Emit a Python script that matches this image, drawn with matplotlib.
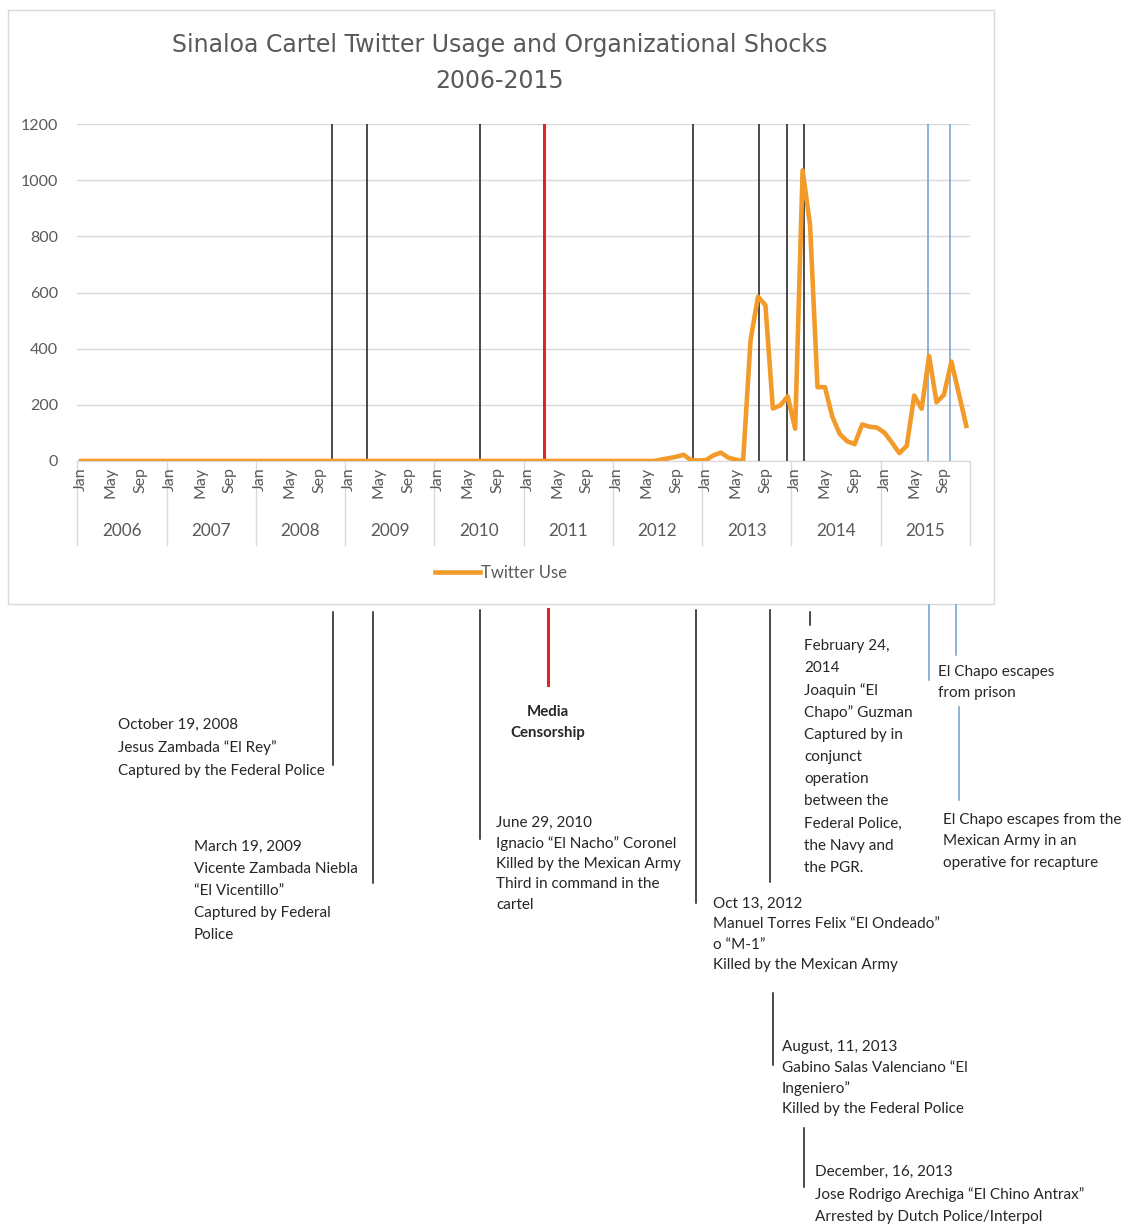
import matplotlib
matplotlib.use("Agg")
import matplotlib.pyplot as plt
from matplotlib.lines import Line2D
from matplotlib.patches import Rectangle

# monthly twitter use (Jan..Dec)
tw_2006 = [0, 0, 0, 0, 0, 0, 0, 0, 0, 0, 0, 0]
tw_2007 = [0, 0, 0, 0, 0, 0, 0, 0, 0, 0, 0, 0]
tw_2008 = [0, 0, 0, 0, 0, 0, 0, 0, 0, 0, 0, 0]
tw_2009 = [0, 0, 0, 0, 0, 0, 0, 0, 0, 0, 0, 0]
tw_2010 = [0, 0, 0, 0, 0, 0, 0, 0, 0, 0, 0, 0]
tw_2011 = [0, 0, 0, 0, 0, 0, 0, 0, 0, 0, 0, 0]
tw_2012 = [0, 0, 0, 0, 0, 0, 5, 10, 15, 22, 3, 2]
tw_2013 = [3, 20, 30, 12, 5, 0, 430, 585, 555, 187, 198, 230]
tw_2014 = [115, 1035, 840, 263, 263, 157, 96, 70, 60, 130, 122, 119]
tw_2015 = [101, 66, 28, 54, 233, 186, 374, 209, 236, 354, 240, 125]

years = [2006, 2007, 2008, 2009, 2010, 2011, 2012, 2013, 2014, 2015]
month_labels = ["Jan", "", "", "", "May", "", "", "", "Sep", "", "", ""]

# organizational shocks, as month index from Jan 2006
event_month = [33.7, 38.4, 53.6, 62.2, 82.3, 91.2, 94.9, 97.2, 113.9, 116.8]
event_color = ["#1a1a1a", "#1a1a1a", "#1a1a1a", "#e0232d", "#1a1a1a",
               "#1a1a1a", "#1a1a1a", "#1a1a1a", "#6f9fd0", "#6f9fd0"]

twitter = tw_2006 + tw_2007 + tw_2008 + tw_2009 + tw_2010 + tw_2011 + \
    tw_2012 + tw_2013 + tw_2014 + tw_2015
months = list(range(len(twitter)))

W, H = 1128, 1226
fig = plt.figure(figsize=(W / 100, H / 100), dpi=100)
FONT = ["Lato", "DejaVu Sans"]
GREY = "#595959"
TXT = "#262626"


def fx(x):
    return x / W


def fy(y):
    return 1 - y / H


# chart frame
fig.patches.append(Rectangle((fx(8), fy(604)), (994 - 8) / W, (604 - 10) / H,
                             transform=fig.transFigure, fill=False,
                             edgecolor="#d9d9d9", lw=1))

ax = fig.add_axes([fx(77.3), fy(461), (970 - 77.3) / W, (461 - 124) / H])
ax.set_xlim(-0.5, len(twitter) - 0.5)
ax.set_ylim(0, 1200)
ax.set_yticks(range(0, 1201, 200))
ax.yaxis.grid(True, color="#d9d9d9", lw=1)
ax.set_axisbelow(True)
for s in ["top", "right", "left"]:
    ax.spines[s].set_visible(False)
ax.spines["bottom"].set_color("#d9d9d9")
ax.tick_params(axis="y", length=0, pad=14, labelsize=11.5, labelcolor=GREY)
for lab in ax.get_yticklabels():
    lab.set_family(FONT)
ax.set_xticks([])

for m, c in zip(event_month, event_color):
    ax.axvline(m, color=c, lw=2.2 if c == "#e0232d" else 1.1, zorder=1)

ax.plot(months, twitter, color="#f29b2b", lw=3.3, solid_joinstyle="round",
        zorder=3, label="Twitter Use")

# category axis: month row + year row
xt = ax.get_xaxis_transform()
for i in months:
    lab = month_labels[i % 12]
    if lab:
        ax.text(i, -0.018, lab, transform=xt, rotation=90, ha="center",
                va="top", fontsize=11.5, color=GREY, family=FONT)
for k, yr in enumerate(years):
    ax.text(k * 12 + 5.5, -0.208, str(yr), transform=xt, ha="center",
            va="center", fontsize=12.3, color=GREY, family=FONT)
for k in range(len(years) + 1):
    ax.plot([k * 12 - 0.5] * 2, [0, -0.25], transform=xt, color="#d9d9d9",
            lw=1, clip_on=False)

fig.text(fx(500), fy(45), "Sinaloa Cartel Twitter Usage and Organizational Shocks",
         ha="center", va="center", fontsize=17,
         family=["Liberation Sans Narrow", "DejaVu Sans"], color=GREY)
fig.text(fx(500), fy(81), "2006-2015", ha="center", va="center", fontsize=17,
         family=["Liberation Sans Narrow", "DejaVu Sans"], color=GREY)

leg = fig.legend(handles=[Line2D([], [], color="#f29b2b", lw=3.3)],
                 labels=["Twitter Use"], loc="center",
                 bbox_to_anchor=(fx(501), fy(573)), frameon=False,
                 handlelength=2.7, handletextpad=0.1,
                 prop={"family": FONT, "size": 12})
for t in leg.get_texts():
    t.set_color(GREY)

# connector lines below the chart box (x, y_top, y_bottom, colour, width)
connectors = [
    (333, 612, 765, "#1a1a1a", 1.1),
    (373, 612, 883, "#1a1a1a", 1.1),
    (480, 610, 839, "#1a1a1a", 1.1),
    (547.5, 609, 685, "#e0232d", 2.2),
    (696, 610, 903, "#1a1a1a", 1.1),
    (770, 610, 882, "#1a1a1a", 1.1),
    (810, 612, 625, "#1a1a1a", 1.1),
    (929.5, 605, 680, "#6f9fd0", 1.1),
    (955.5, 605, 655, "#6f9fd0", 1.1),
    (959, 707, 800, "#6f9fd0", 1.1),
    (772.5, 993, 1065, "#1a1a1a", 1.1),
    (804, 1128, 1187, "#1a1a1a", 1.1),
]
for x, y0, y1, c, w in connectors:
    fig.add_artist(Line2D([fx(x), fx(x)], [fy(y0), fy(y1)],
                          transform=fig.transFigure, color=c, lw=w))

# annotation blocks: (x, first line y, line step, lines)
notes = [
    (118, 725, 23, ["October 19, 2008", "Jesus Zambada \u201cEl Rey\u201d",
                    "Captured by the Federal Police"]),
    (194, 847, 22, ["March 19, 2009", "Vicente Zambada Niebla",
                    "\u201cEl Vicentillo\u201d", "Captured by Federal", "Police"]),
    (496, 823, 20.5, ["June 29, 2010", "Ignacio \u201cEl Nacho\u201d Coronel",
                      "Killed by the Mexican Army", "Third in command in the",
                      "cartel"]),
    (713, 904, 20.5, ["Oct 13, 2012", "Manuel Torres Felix \u201cEl Ondeado\u201d",
                      "o \u201cM-1\u201d", "Killed by the Mexican Army"]),
    (804, 646, 22.2, ["February 24,", "2014", "Joaquin \u201cEl",
                      "Chapo\u201d Guzman", "Captured by in", "conjunct",
                      "operation", "between the", "Federal Police,",
                      "the Navy and", "the PGR."]),
    (938, 672, 20.5, ["El Chapo escapes", "from prison"]),
    (943, 820, 21.5, ["El Chapo escapes from the", "Mexican Army in an",
                      "operative for recapture"]),
    (782, 1047, 20.7, ["August, 11, 2013", "Gabino Salas Valenciano \u201cEl",
                       "Ingeniero\u201d", "Killed by the Federal Police"]),
    (815, 1172, 22.5, ["December, 16, 2013",
                       "Jose Rodrigo Arechiga \u201cEl Chino Antrax\u201d",
                       "Arrested by Dutch Police/Interpol"]),
]
for x, y, step, lines in notes:
    for j, line in enumerate(lines):
        fig.text(fx(x), fy(y + j * step), line, ha="left", va="center",
                 fontsize=11, color=TXT, family=FONT)

for j, line in enumerate(["Media", "Censorship"]):
    fig.text(fx(548), fy(712 + j * 21), line, ha="center", va="center",
             fontsize=10.8, color=TXT, family=FONT, weight="bold")

fig.savefig("out.png", dpi=100, facecolor="white")
